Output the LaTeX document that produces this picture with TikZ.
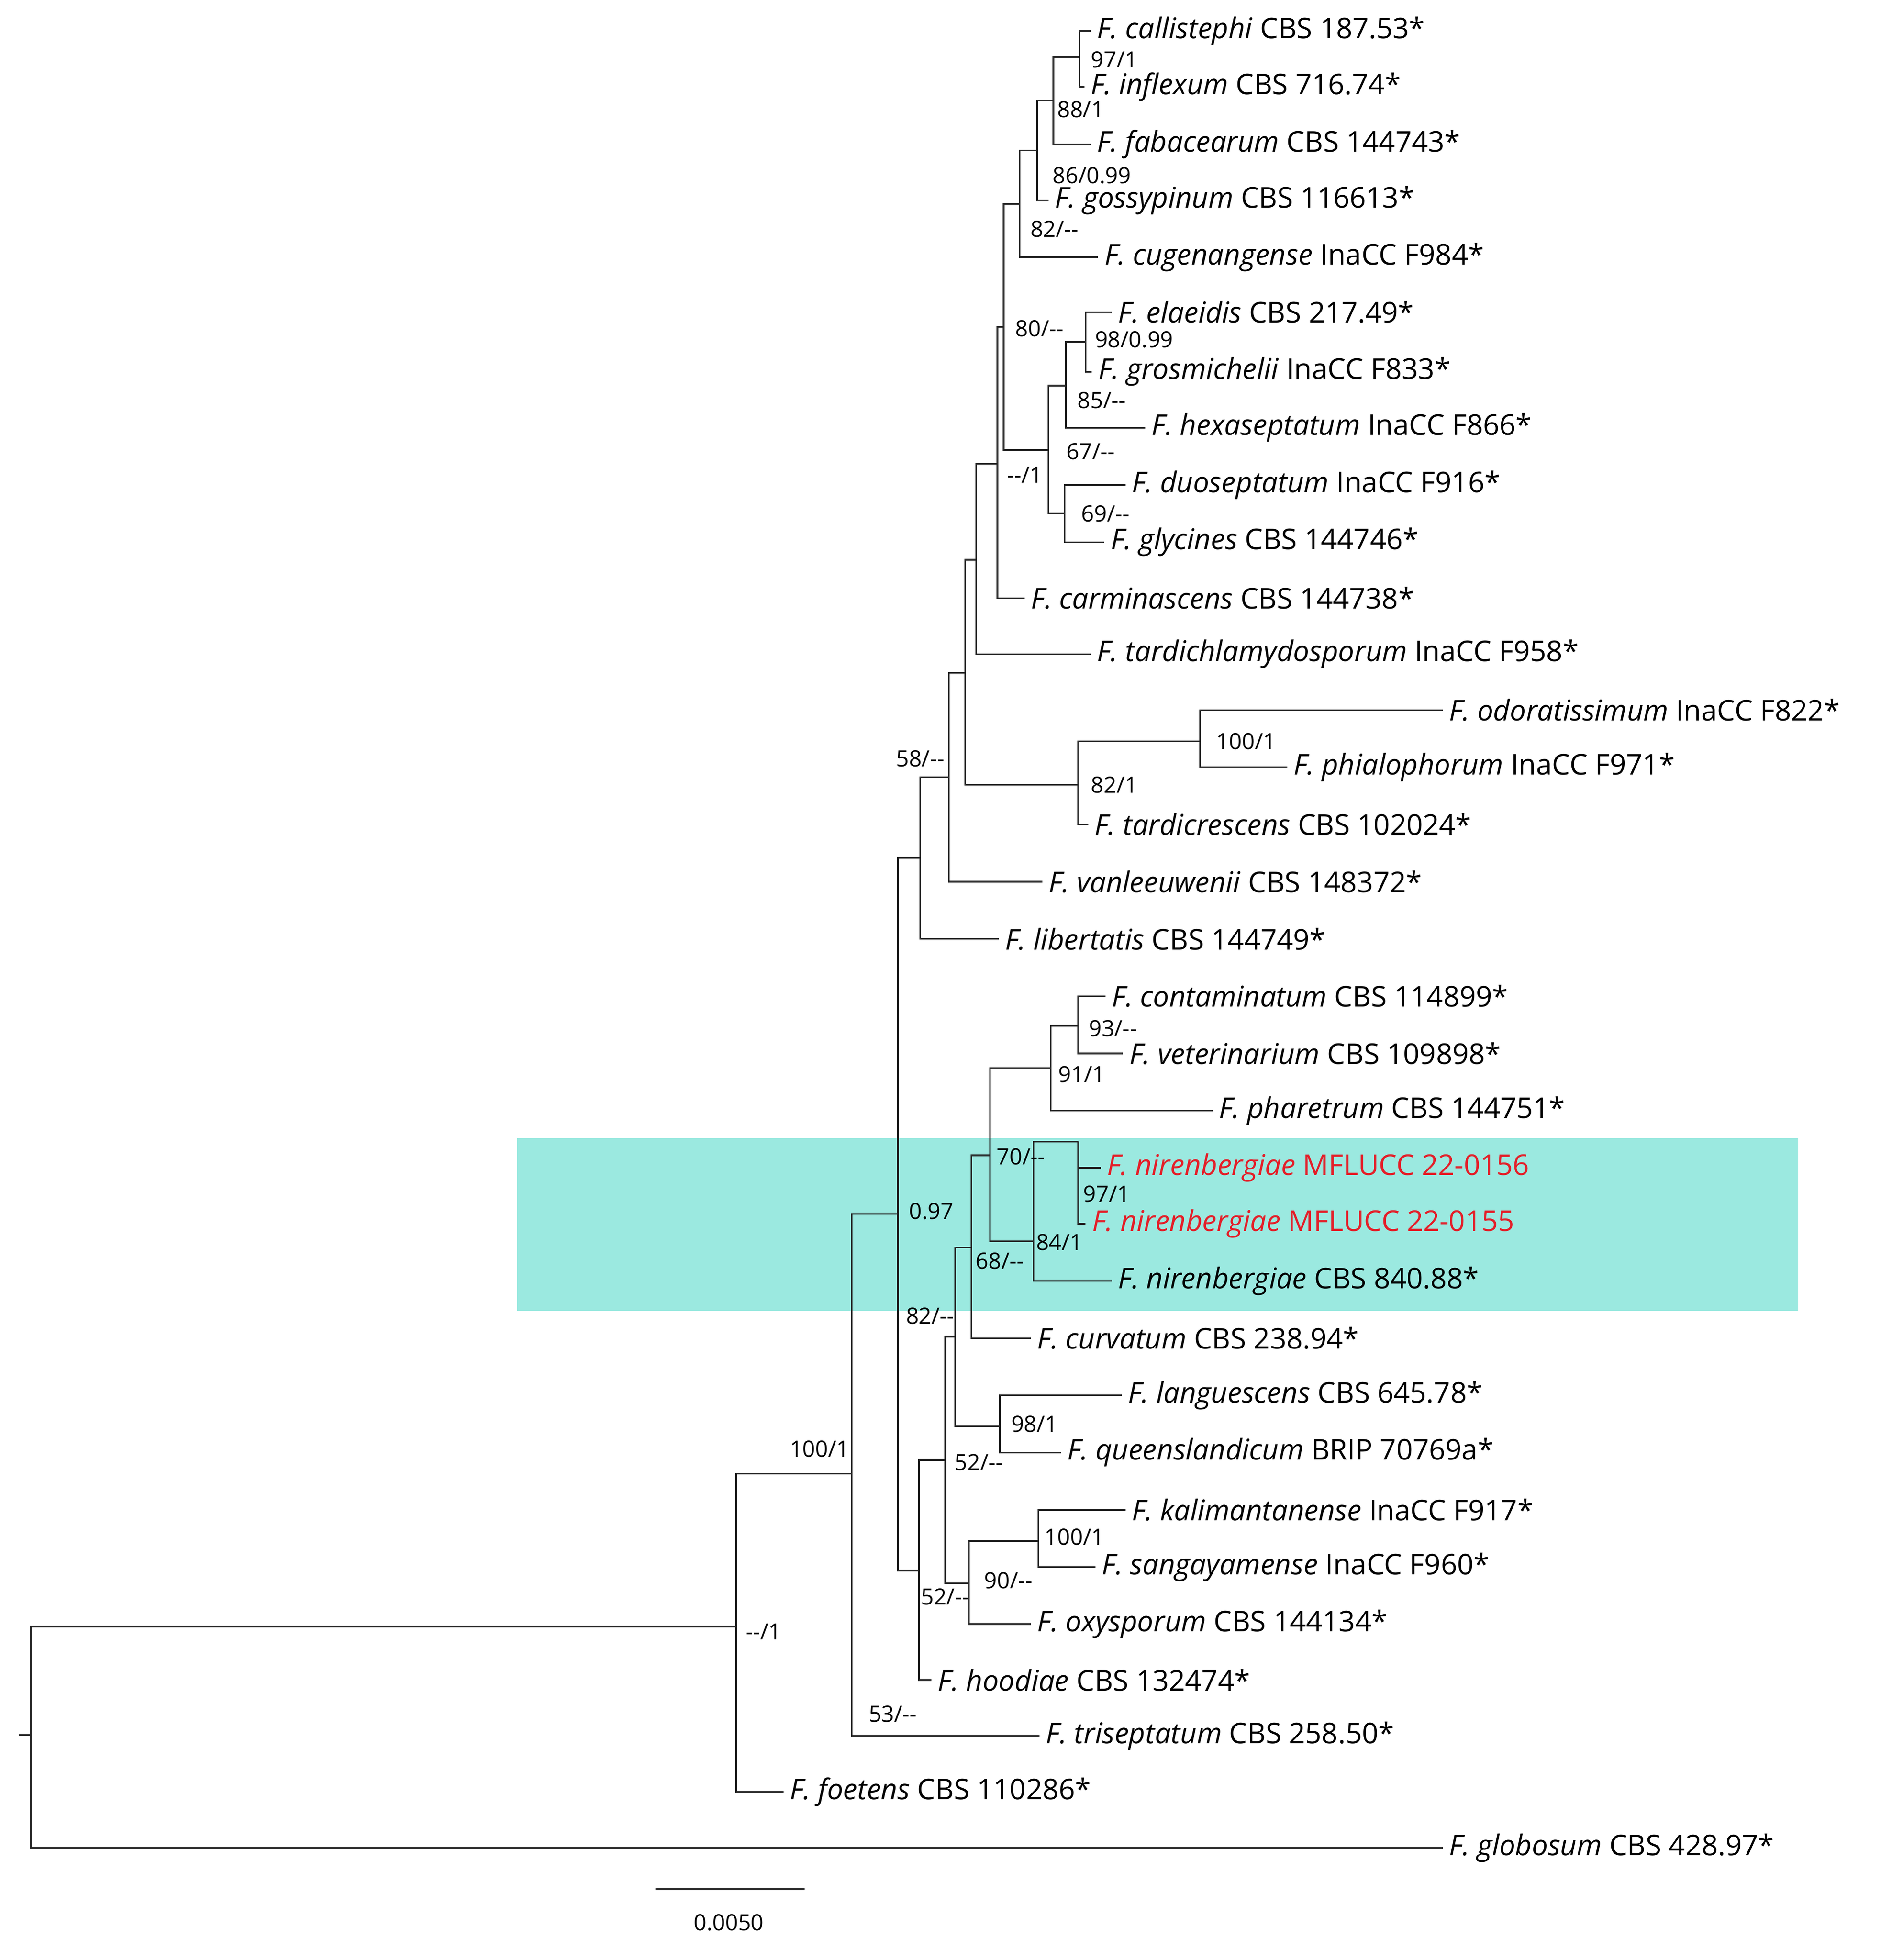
\documentclass[tikz,border=0pt]{standalone}
\usepackage{fontspec}
\setmainfont{Open Sans}
\definecolor{hl}{RGB}{155,233,224}
\definecolor{rd}{RGB}{228,30,40}
\newcommand{\tx}[2]{\textit{#1} #2}
\newcommand{\dd}{{-}{-}}
\begin{document}
\begin{tikzpicture}[x=1pt,y=-1pt,
  br/.style={line width=1.3pt,draw=black!85},
  lf/.style={anchor=west,inner sep=0pt,xshift=5pt,font=\fontsize{23}{27}\selectfont},
  rl/.style={lf,text=rd},
  bs/.style={inner sep=0pt,font=\fontsize{18}{22}\selectfont}]
\useasboundingbox (0,0) rectangle (1530,1576);
\fill[hl] (416,915) rectangle (1446,1054);
% internal nodes
\coordinate (rs) at (15,1395);
\coordinate (R) at (25,1395);
\coordinate (A) at (592,1308);
\coordinate (B) at (685,1185);
\coordinate (C) at (722,976);
\coordinate (N16) at (740,690);
\coordinate (N13) at (763,625);
\coordinate (N12) at (776,541);
\coordinate (N11) at (785,450);
\coordinate (N10) at (802,373);
\coordinate (N5) at (807,263);
\coordinate (N4) at (820,164);
\coordinate (N3) at (834,121);
\coordinate (N2) at (847,81);
\coordinate (N1) at (868,46);
\coordinate (N6) at (843,362);
\coordinate (N7) at (857,310);
\coordinate (N8) at (873,275);
\coordinate (N9) at (856,413);
\coordinate (N14) at (867,631);
\coordinate (N15) at (965,596);
\coordinate (N27) at (739,1263);
\coordinate (N25) at (760,1174);
\coordinate (N23) at (768,1075);
\coordinate (N21) at (781,1003);
\coordinate (N19) at (796,929);
\coordinate (N17) at (845,859);
\coordinate (N18) at (867,825);
\coordinate (N20) at (831,998);
\coordinate (N22) at (867,918);
\coordinate (N24) at (804,1147);
\coordinate (N26) at (779,1273);
\coordinate (N28) at (835,1239);
% tips
\coordinate (t1) at (877,25);
\coordinate (t2) at (872,70);
\coordinate (t3) at (877,116);
\coordinate (t4) at (843,161);
\coordinate (t5) at (883,207);
\coordinate (t6) at (894,251);
\coordinate (t7) at (878,299);
\coordinate (t8) at (921,344);
\coordinate (t9) at (905,390);
\coordinate (t10) at (888,436);
\coordinate (t11) at (824,481);
\coordinate (t12) at (877,526);
\coordinate (t13) at (1160,571);
\coordinate (t14) at (1035,617);
\coordinate (t15) at (875,663);
\coordinate (t16) at (838,709);
\coordinate (t17) at (803,755);
\coordinate (t18) at (889,801);
\coordinate (t19) at (903,847);
\coordinate (t20) at (975,893);
\coordinate (t21) at (885,939);
\coordinate (t22) at (873,984);
\coordinate (t23) at (894,1030);
\coordinate (t24) at (829,1076);
\coordinate (t25) at (902,1122);
\coordinate (t26) at (853,1168);
\coordinate (t27) at (905,1214);
\coordinate (t28) at (881,1260);
\coordinate (t29) at (829,1306);
\coordinate (t30) at (749,1351);
\coordinate (t31) at (836,1396);
\coordinate (t32) at (630,1441);
\coordinate (t33) at (1160,1486);
% branches
\draw[br] (rs)--(R);
\draw[br] (R)|-(A); \draw[br] (R)|-(t33);
\draw[br] (A)|-(B); \draw[br] (A)|-(t32);
\draw[br] (B)|-(C); \draw[br] (B)|-(t31);
\draw[br] (C)|-(N16); \draw[br] (C)|-(N27);
\draw[br] (N16)|-(N13); \draw[br] (N16)|-(t17);
\draw[br] (N13)|-(N12); \draw[br] (N13)|-(t16);
\draw[br] (N12)|-(N11); \draw[br] (N12)|-(N14);
\draw[br] (N11)|-(N10); \draw[br] (N11)|-(t12);
\draw[br] (N10)|-(N5); \draw[br] (N10)|-(t11);
\draw[br] (N5)|-(N4); \draw[br] (N5)|-(N6);
\draw[br] (N4)|-(N3); \draw[br] (N4)|-(t5);
\draw[br] (N3)|-(N2); \draw[br] (N3)|-(t4);
\draw[br] (N2)|-(N1); \draw[br] (N2)|-(t3);
\draw[br] (N1)|-(t1); \draw[br] (N1)|-(t2);
\draw[br] (N6)|-(N7); \draw[br] (N6)|-(N9);
\draw[br] (N7)|-(N8); \draw[br] (N7)|-(t8);
\draw[br] (N8)|-(t6); \draw[br] (N8)|-(t7);
\draw[br] (N9)|-(t9); \draw[br] (N9)|-(t10);
\draw[br] (N14)|-(N15); \draw[br] (N14)|-(t15);
\draw[br] (N15)|-(t13); \draw[br] (N15)|-(t14);
\draw[br] (N27)|-(N25); \draw[br] (N27)|-(t30);
\draw[br] (N25)|-(N23); \draw[br] (N25)|-(N26);
\draw[br] (N23)|-(N21); \draw[br] (N23)|-(N24);
\draw[br] (N21)|-(N19); \draw[br] (N21)|-(t24);
\draw[br] (N19)|-(N17); \draw[br] (N19)|-(N20);
\draw[br] (N17)|-(N18); \draw[br] (N17)|-(t20);
\draw[br] (N18)|-(t18); \draw[br] (N18)|-(t19);
\draw[br] (N20)|-(N22); \draw[br] (N20)|-(t23);
\draw[br] (N22)|-(t21); \draw[br] (N22)|-(t22);
\draw[br] (N24)|-(t25); \draw[br] (N24)|-(t26);
\draw[br] (N26)|-(N28); \draw[br] (N26)|-(t29);
\draw[br] (N28)|-(t27); \draw[br] (N28)|-(t28);
% leaf labels
\node[lf] (L1) at (t1) {\tx{F. callistephi}{CBS 187.53*}};
\node[lf] (L2) at (t2) {\tx{F. inflexum}{CBS 716.74*}};
\node[lf] (L3) at (t3) {\tx{F. fabacearum}{CBS 144743*}};
\node[lf] (L4) at (t4) {\tx{F. gossypinum}{CBS 116613*}};
\node[lf] (L5) at (t5) {\tx{F. cugenangense}{InaCC F984*}};
\node[lf] (L6) at (t6) {\tx{F. elaeidis}{CBS 217.49*}};
\node[lf] (L7) at (t7) {\tx{F. grosmichelii}{InaCC F833*}};
\node[lf] (L8) at (t8) {\tx{F. hexaseptatum}{InaCC F866*}};
\node[lf] (L9) at (t9) {\tx{F. duoseptatum}{InaCC F916*}};
\node[lf] (L10) at (t10) {\tx{F. glycines}{CBS 144746*}};
\node[lf] (L11) at (t11) {\tx{F. carminascens}{CBS 144738*}};
\node[lf] (L12) at (t12) {\tx{F. tardichlamydosporum}{InaCC F958*}};
\node[lf] (L13) at (t13) {\tx{F. odoratissimum}{InaCC F822*}};
\node[lf] (L14) at (t14) {\tx{F. phialophorum}{InaCC F971*}};
\node[lf] (L15) at (t15) {\tx{F. tardicrescens}{CBS 102024*}};
\node[lf] (L16) at (t16) {\tx{F. vanleeuwenii}{CBS 148372*}};
\node[lf] (L17) at (t17) {\tx{F. libertatis}{CBS 144749*}};
\node[lf] (L18) at (t18) {\tx{F. contaminatum}{CBS 114899*}};
\node[lf] (L19) at (t19) {\tx{F. veterinarium}{CBS 109898*}};
\node[lf] (L20) at (t20) {\tx{F. pharetrum}{CBS 144751*}};
\node[rl] (L21) at (t21) {\tx{F. nirenbergiae}{MFLUCC 22-0156}};
\node[rl] (L22) at (t22) {\tx{F. nirenbergiae}{MFLUCC 22-0155}};
\node[lf] (L23) at (t23) {\tx{F. nirenbergiae}{CBS 840.88*}};
\node[lf] (L24) at (t24) {\tx{F. curvatum}{CBS 238.94*}};
\node[lf] (L25) at (t25) {\tx{F. languescens}{CBS 645.78*}};
\node[lf] (L26) at (t26) {\tx{F. queenslandicum}{BRIP 70769a*}};
\node[lf] (L27) at (t27) {\tx{F. kalimantanense}{InaCC F917*}};
\node[lf] (L28) at (t28) {\tx{F. sangayamense}{InaCC F960*}};
\node[lf] (L29) at (t29) {\tx{F. oxysporum}{CBS 144134*}};
\node[lf] (L30) at (t30) {\tx{F. hoodiae}{CBS 132474*}};
\node[lf] (L31) at (t31) {\tx{F. triseptatum}{CBS 258.50*}};
\node[lf] (L32) at (t32) {\tx{F. foetens}{CBS 110286*}};
\node[lf] (L33) at (t33) {\tx{F. globosum}{CBS 428.97*}};
% support values
\node[bs] (s1) at (896,48) {97/1};
\node[bs] (s2) at (869,88) {88/1};
\node[bs] (s3) at (878,141) {86/0.99};
\node[bs] (s4) at (848,184) {82/\dd};
\node[bs] (s5) at (836,264) {80/\dd};
\node[bs] (s6) at (912,273) {98/0.99};
\node[bs] (s7) at (886,322) {85/\dd};
\node[bs] (s8) at (877,363) {67/\dd};
\node[bs] (s9) at (824,382) {\dd/1};
\node[bs] (s10) at (889,413) {69/\dd};
\node[bs] (s11) at (1002,596) {100/1};
\node[bs] (s12) at (896,631) {82/1};
\node[bs] (s13) at (740,610) {58/\dd};
\node[bs] (s14) at (895,827) {93/\dd};
\node[bs] (s15) at (870,864) {91/1};
\node[bs] (s16) at (821,930) {70/\dd};
\node[bs] (s17) at (890,960) {97/1};
\node[bs] (s18) at (749,974) {0.97};
\node[bs] (s19) at (852,999) {84/1};
\node[bs] (s20) at (804,1014) {68/\dd};
\node[bs] (s21) at (748,1058) {82/\dd};
\node[bs] (s22) at (832,1145) {98/1};
\node[bs] (s23) at (787,1176) {52/\dd};
\node[bs] (s24) at (864,1236) {100/1};
\node[bs] (s25) at (811,1271) {90/\dd};
\node[bs] (s26) at (760,1284) {52/\dd};
\node[bs] (s27) at (659,1165) {100/1};
\node[bs] (s28) at (718,1378) {53/\dd};
\node[bs] (s29) at (614,1312) {\dd/1};
% scale bar
\coordinate (sb1) at (527,1519);
\coordinate (sb2) at (647,1519);
\draw[br] (sb1)--(sb2);
\node[bs] (sbl) at (586,1546) {0.0050};
\end{tikzpicture}
\end{document}
